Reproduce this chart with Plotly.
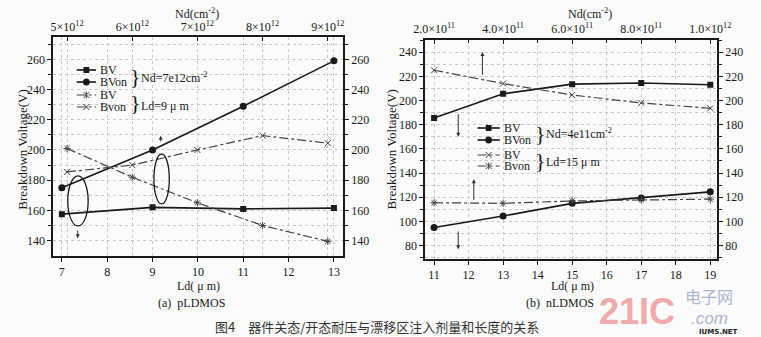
import plotly.graph_objects as go

# ---------------- data ----------------
# (a) pLDMOS : bottom axis Ld (um), Nd = 7e12
p_ld = [7, 9, 11, 13]
p_bv = [157.5, 162, 161, 161.5]
p_bvon = [175, 200, 229, 259]
# (a) pLDMOS : top axis Nd (x1e12), Ld = 9 um
p_nd = [5, 6, 7, 8, 9]
p_nd_ticktext = ["5×10<sup>12</sup>", "6×10<sup>12</sup>", "7×10<sup>12</sup>",
                 "8×10<sup>12</sup>", "9×10<sup>12</sup>"]
p_nd_bv = [201, 182, 165, 150, 139.5]
p_nd_bvon = [185.5, 190, 200, 209.5, 204.5]

# (b) nLDMOS : bottom axis Ld (um), Nd = 4e11
n_ld = [11, 13, 15, 17, 19]
n_bv = [185.5, 205.5, 213.5, 214.5, 213]
n_bvon = [95, 104.5, 115, 119.5, 124.5]
# (b) nLDMOS : top axis Nd (x1e11), Ld = 15 um
n_nd = [2, 4, 6, 8, 10]
n_nd_ticktext = ["2.0×10<sup>11</sup>", "4.0×10<sup>11</sup>", "6.0×10<sup>11</sup>",
                 "8.0×10<sup>11</sup>", "1.0×10<sup>12</sup>"]
n_nd_bv = [225, 214, 204.5, 198, 193.5]
n_nd_bvon = [115.5, 115, 117, 118, 118.5]

W, H = 761, 337
SERIF = "Liberation Serif"
BLACK = "#1a1a1a"
GRAY = "#444444"
GRID = "#c9c9c9"
BG = "#fbfbfb"


def px(x):
    return x / W


def py(y):
    return 1 - y / H


fig = go.Figure()

solid = dict(color=BLACK, width=1.6)
dd = dict(color=GRAY, width=1.2, dash="dashdot")

# left panel
fig.add_trace(go.Scatter(x=p_ld, y=p_bv, mode="lines+markers", line=solid,
                         marker=dict(symbol="square", size=6, color=BLACK), xaxis="x", yaxis="y"))
fig.add_trace(go.Scatter(x=p_ld, y=p_bvon, mode="lines+markers", line=solid,
                         marker=dict(symbol="circle", size=7, color=BLACK), xaxis="x", yaxis="y"))
fig.add_trace(go.Scatter(x=p_nd, y=p_nd_bv, mode="lines+markers", line=dd,
                         marker=dict(symbol="asterisk-open", size=6, color=GRAY, line=dict(width=1, color=GRAY)),
                         xaxis="x2", yaxis="y"))
fig.add_trace(go.Scatter(x=p_nd, y=p_nd_bvon, mode="lines+markers", line=dd,
                         marker=dict(symbol="x-thin-open", size=6, color=GRAY, line=dict(width=1, color=GRAY)),
                         xaxis="x2", yaxis="y"))
fig.add_trace(go.Scatter(x=[], y=[], xaxis="x", yaxis="y2"))

# right panel
fig.add_trace(go.Scatter(x=n_ld, y=n_bv, mode="lines+markers", line=solid,
                         marker=dict(symbol="square", size=6, color=BLACK), xaxis="x3", yaxis="y3"))
fig.add_trace(go.Scatter(x=n_ld, y=n_bvon, mode="lines+markers", line=solid,
                         marker=dict(symbol="circle", size=7, color=BLACK), xaxis="x3", yaxis="y3"))
fig.add_trace(go.Scatter(x=n_nd, y=n_nd_bv, mode="lines+markers", line=dd,
                         marker=dict(symbol="x-thin-open", size=6, color=GRAY, line=dict(width=1, color=GRAY)),
                         xaxis="x4", yaxis="y3"))
fig.add_trace(go.Scatter(x=n_nd, y=n_nd_bvon, mode="lines+markers", line=dd,
                         marker=dict(symbol="asterisk-open", size=6, color=GRAY, line=dict(width=1, color=GRAY)),
                         xaxis="x4", yaxis="y3"))
fig.add_trace(go.Scatter(x=[], y=[], xaxis="x3", yaxis="y4"))

tickfont = dict(family=SERIF, size=12, color=BLACK)
topfont = dict(family=SERIF, size=12, color=BLACK)
axline = dict(showline=True, linecolor=BLACK, linewidth=1.8, zeroline=False)

L_dom_x = [px(42.7), px(342.7)]
L_dom_y = [py(255.7), py(37.3)]
R_dom_x = [px(428), px(730)]
R_dom_y = [py(259), py(40)]
L_yr = [130, 274.6]
R_yr = [69, 250]

fig.update_layout(
    width=W, height=H, margin=dict(l=0, r=0, t=0, b=0),
    paper_bgcolor=BG, plot_bgcolor=BG, showlegend=False,
    font=dict(family=SERIF, color=BLACK),
    xaxis=dict(domain=L_dom_x, anchor="y", range=[6.81, 13.2], tickvals=p_ld + [8, 10, 12],
               ticks="outside", ticklen=4, tickwidth=1.2, tickcolor=BLACK, tickfont=tickfont,
               showgrid=True, gridcolor=GRID, griddash="dot", gridwidth=1, **axline),
    xaxis2=dict(overlaying="x", anchor="y", side="top", range=[4.788, 9.233], tickvals=p_nd,
                ticktext=p_nd_ticktext, ticks="inside", ticklen=4, tickwidth=1.2, tickcolor=BLACK,
                tickfont=topfont, showgrid=True, gridcolor=GRID, griddash="dot", **axline),
    yaxis=dict(domain=L_dom_y, anchor="x", range=L_yr, tickvals=[140, 160, 180, 200, 220, 240, 260],
               ticks="outside", ticklen=4, tickwidth=1.2, tickcolor=BLACK, tickfont=tickfont,
               showgrid=True, gridcolor=GRID, griddash="dot",
               minor=dict(tickvals=[150, 170, 190, 210, 230, 250, 270], ticks="outside", ticklen=3,
                          tickcolor=BLACK, showgrid=True, gridcolor=GRID, griddash="dot"), **axline),
    yaxis2=dict(overlaying="y", anchor="x", side="right", range=L_yr,
                tickvals=[140, 160, 180, 200, 220, 240, 260], ticks="outside", ticklen=4, tickwidth=1.2,
                tickcolor=BLACK, tickfont=tickfont, showgrid=False,
                minor=dict(tickvals=[150, 170, 190, 210, 230, 250, 270], ticks="outside", ticklen=3,
                           tickcolor=BLACK), **axline),
    xaxis3=dict(domain=R_dom_x, anchor="y3", range=[10.748, 19.196], tickvals=list(range(11, 20)),
                ticks="outside", ticklen=4, tickwidth=1.2, tickcolor=BLACK, tickfont=tickfont,
                showgrid=True, gridcolor=GRID, griddash="dot", **axline),
    xaxis4=dict(overlaying="x3", anchor="y3", side="top", range=[1.748, 10.196], tickvals=n_nd,
                ticktext=n_nd_ticktext, ticks="inside", ticklen=4, tickwidth=1.2, tickcolor=BLACK,
                tickfont=topfont, showgrid=True, gridcolor=GRID, griddash="dot",
                minor=dict(tickvals=[3, 5, 7, 9], ticks="inside", ticklen=3,
                           tickcolor=BLACK, showgrid=True, gridcolor=GRID, griddash="dot"),
                **axline),
    yaxis3=dict(domain=R_dom_y, anchor="x3", range=R_yr, tickvals=list(range(80, 241, 20)),
                ticks="outside", ticklen=4, tickwidth=1.2, tickcolor=BLACK, tickfont=tickfont,
                showgrid=True, gridcolor=GRID, griddash="dot",
                minor=dict(tickvals=list(range(70, 251, 20)), ticks="outside", ticklen=3,
                           tickcolor=BLACK, showgrid=True, gridcolor=GRID, griddash="dot"), **axline),
    yaxis4=dict(overlaying="y3", anchor="x3", side="right", range=R_yr, tickvals=list(range(80, 241, 20)),
                ticks="outside", ticklen=4, tickwidth=1.2, tickcolor=BLACK, tickfont=tickfont,
                showgrid=False, minor=dict(tickvals=list(range(70, 251, 20)), ticks="outside", ticklen=3,
                                           tickcolor=BLACK), **axline),
)

ann = []
shapes = []


def text(x, y, s, size=12, xanchor="center", angle=0, color=BLACK, family=SERIF, **kw):
    ann.append(dict(x=px(x), y=py(y), xref="paper", yref="paper", text=s, showarrow=False,
                    xanchor=xanchor, yanchor="middle", textangle=angle, borderpad=0,
                    font=dict(family=family, size=size, color=color), **kw))


def seg(x0, y0, x1, y1, color=GRAY, width=1.0, dash="solid"):
    shapes.append(dict(type="line", xref="paper", yref="paper", x0=px(x0), x1=px(x1), y0=py(y0), y1=py(y1),
                       line=dict(color=color, width=width, dash=dash)))


# axis titles
text(192, 14, "Nd(cm<sup>-2</sup>)", 12)
text(598, 14, "Nd(cm<sup>-2</sup>)", 12)
text(10, 150, "Breakdown Voltage(V)", 13, angle=-90)
text(392, 150, "Breakdown Voltage(V)", 13, angle=-90)
text(193, 286, "Ld( μ m)", 12)
text(580, 286, "Ld( μ m)", 12)
text(186, 303, "(a)  pLDMOS", 12)
text(567, 303, "(b)  nLDMOS", 12)
text(378, 326, "图4　器件关态/开态耐压与漂移区注入剂量和长度的关系", 13, family="Noto Sans CJK SC",
     color="#333333")

# watermark
text(647, 311, "<b>21IC</b>", 36, color="#f2a9a9", family="Liberation Sans")
text(722, 296, "电子网", 16, color="#a8b6d2", family="Noto Sans CJK SC")
text(722, 318, "<i>.com</i>", 17, color="#a8b6d2", family="Liberation Sans")
text(732, 332, "<b>IUMS.NET</b>", 7, color="#222222", family="DejaVu Sans")


def legend_entry(y, x0, x1, label, kind, marker):
    xm = (x0 + x1) / 2
    if kind == "solid":
        seg(x0, y, x1, y, BLACK, 1.6)
    else:
        seg(x0, y, x1, y, GRAY, 1.2, "dashdot")
    if marker == "square":
        shapes.append(dict(type="rect", xref="paper", yref="paper", x0=px(xm - 3), x1=px(xm + 3),
                           y0=py(y + 3), y1=py(y - 3), fillcolor=BLACK, line=dict(width=0)))
    elif marker == "circle":
        shapes.append(dict(type="circle", xref="paper", yref="paper", x0=px(xm - 3.5), x1=px(xm + 3.5),
                           y0=py(y + 3.5), y1=py(y - 3.5), fillcolor=BLACK, line=dict(width=0)))
    elif marker == "x":
        seg(xm - 3, y - 3, xm + 3, y + 3)
        seg(xm - 3, y + 3, xm + 3, y - 3)
    else:  # asterisk
        seg(xm - 3, y - 3, xm + 3, y + 3)
        seg(xm - 3, y + 3, xm + 3, y - 3)
        seg(xm, y - 3.5, xm, y + 3.5)
    text(x1 + 3, y, label, 12, xanchor="left")


# left legend
legend_entry(70, 67, 87, "BV", "solid", "square")
legend_entry(82, 67, 87, "BVon", "solid", "circle")
legend_entry(95, 67, 87, "BV", "dd", "star")
legend_entry(107, 67, 87, "Bvon", "dd", "x")
text(128, 76, "}", 22, family=SERIF)
text(133, 77, "Nd=7e12cm<sup>-2</sup>", 12, xanchor="left")
text(128, 102, "}", 22, family=SERIF)
text(133, 106, "Ld=9 μ m", 12, xanchor="left")

# right legend
legend_entry(128, 482, 505, "BV", "solid", "square")
legend_entry(140, 482, 505, "BVon", "solid", "circle")
legend_entry(155, 482, 505, "BV", "dd", "x")
legend_entry(166, 482, 505, "Bvon", "dd", "star")
text(547, 133, "}", 22, family=SERIF)
text(552, 133, "Nd=4e11cm<sup>-2</sup>", 12, xanchor="left")
text(547, 160, "}", 22, family=SERIF)
text(552, 162, "Ld=15 μ m", 12, xanchor="left")

# ellipses (left panel)
shapes.append(dict(type="circle", xref="x", yref="y", x0=7.13, x1=7.58, y0=149.7, y1=182.8,
                   line=dict(color=BLACK, width=1.3)))
shapes.append(dict(type="circle", xref="x", yref="y", x0=9.03, x1=9.37, y0=164.3, y1=197.4,
                   line=dict(color=BLACK, width=1.3)))


def arrow(xr, yr, x, y0, y1):
    ann.append(dict(xref=xr, yref=yr, axref=xr, ayref=yr, x=x, y=y1, ax=x, ay=y0, text="",
                    showarrow=True, arrowhead=2, arrowsize=0.8, arrowwidth=1, arrowcolor="#333333"))


arrow("x", "y", 7.35, 147.7, 141.5)
arrow("x", "y", 9.18, 204.7, 209.5)
arrow("x3", "y3", 12.4, 220, 240)
arrow("x3", "y3", 11.7, 190, 170)
arrow("x3", "y3", 12.15, 116.5, 135)
arrow("x3", "y3", 11.7, 93, 77)

fig.update_layout(annotations=ann, shapes=shapes)
fig.write_html("out.html")
